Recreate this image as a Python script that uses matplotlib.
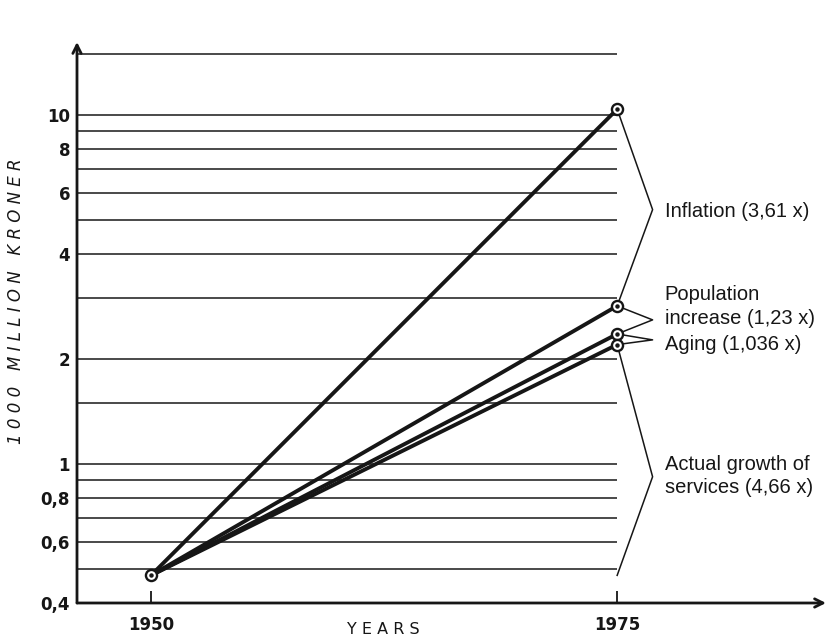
import matplotlib
matplotlib.use("Agg")
import matplotlib.pyplot as plt
from matplotlib.ticker import NullLocator, FixedLocator
import numpy as np

# ---------------- data ----------------
years = [1950, 1975]
start_value = 0.48
series_names = ["Inflation", "Population increase", "Aging", "Actual growth of services"]
end_values = [10.4, 2.84, 2.36, 2.20]

grid_levels = [0.5, 0.6, 0.7, 0.8, 0.9, 1, 1.5, 2, 3, 4, 5, 6, 7, 8, 9, 10, 15]
ytick_values = [0.4, 0.6, 0.8, 1, 2, 4, 6, 8, 10]
ytick_labels = ["0,4", "0,6", "0,8", "1", "2", "4", "6", "8", "10"]

bracket_labels = ["Inflation (3,61 x)",
                  "Population\nincrease (1,23 x)",
                  "Aging (1,036 x)",
                  "Actual growth of\nservices (4,66 x)"]
bracket_tip_values = [5.36, 2.59, 2.27, 0.92]
label_y_values = [5.3, 2.83, 2.2, 0.925]

# ---------------- figure ----------------
W, H = 826, 640
fig = plt.figure(figsize=(W / 100, H / 100), dpi=100)
fig.patch.set_facecolor("white")

ax_left, ax_bottom_px, ax_top_px = 77, 603, 42
ax = fig.add_axes([ax_left / W, (H - ax_bottom_px) / H,
                   (W - ax_left) / W, (ax_bottom_px - ax_top_px) / H])
ax.set_facecolor("none")
ax.set_yscale("log")
ax.set_xlim(1946.03, 1986.2)
ax.set_ylim(0.4, 16.2)

ink = "#161616"

# horizontal grid lines
ax.hlines(grid_levels, ax.get_xlim()[0], years[1], color="#2a2a2a", lw=1.2, zorder=1)

# data lines
for v in end_values:
    ax.plot(years, [start_value, v], color=ink, lw=2.8, solid_capstyle="round", zorder=3)

# markers (circle with dot)
all_pts_x = [years[0]] + [years[1]] * len(end_values)
all_pts_y = [start_value] + end_values
ax.plot(all_pts_x, all_pts_y, ls="none", marker="o", ms=8.0, mfc="white",
        mec=ink, mew=1.7, zorder=4)
ax.plot(all_pts_x, all_pts_y, ls="none", marker="o", ms=2.2, mfc=ink,
        mec=ink, zorder=5)

# brackets
tip_x = 1976.9
label_x = 1977.55
ends = end_values + [start_value]
for i in range(len(end_values)):
    top, bot = ends[i], ends[i + 1]
    ax.plot([years[1], tip_x, years[1]], [top, bracket_tip_values[i], bot],
            color=ink, lw=1.1, zorder=2, clip_on=False)
    ax.text(label_x, label_y_values[i], bracket_labels[i], ha="left", va="center",
            fontsize=14.5, family="Liberation Sans", color=ink, linespacing=1.3)

# axes spines / arrows
for s in ax.spines.values():
    s.set_visible(False)
ax.annotate("", xy=(1.0, 0), xytext=(0, 0), xycoords="axes fraction",
            arrowprops=dict(arrowstyle="->,head_length=0.6,head_width=0.3",
                            color=ink, lw=2.0, shrinkA=0, shrinkB=0))
ax.annotate("", xy=(0, 1.0), xytext=(0, 0), xycoords="axes fraction",
            arrowprops=dict(arrowstyle="->,head_length=0.6,head_width=0.3",
                            color=ink, lw=2.0, shrinkA=0, shrinkB=0))

# ticks
ax.yaxis.set_major_locator(FixedLocator(ytick_values))
ax.yaxis.set_minor_locator(NullLocator())
ax.set_yticklabels(ytick_labels)
ax.set_xticks(years)
ax.set_xticklabels([str(y) for y in years])
ax.tick_params(axis="y", length=0, pad=5, labelsize=12, colors=ink)
ax.tick_params(axis="x", direction="in", length=9, width=1.3, pad=9,
               labelsize=12, colors=ink)
for lab in ax.get_xticklabels() + ax.get_yticklabels():
    lab.set_fontweight("bold")
    lab.set_family("DejaVu Sans")

# axis titles
fig.text(383 / W, 1 - 630 / H, "Y E A R S", ha="center", va="center",
         fontsize=11.5, family="DejaVu Sans", color=ink)
fig.text(16 / W, 1 - 301 / H, "1 0 0 0   M I L L I O N   K R O N E R",
         rotation=90, ha="center", va="center", fontsize=12,
         family="DejaVu Sans", style="italic", color=ink)

fig.savefig("out.png", dpi=100, facecolor="white")
